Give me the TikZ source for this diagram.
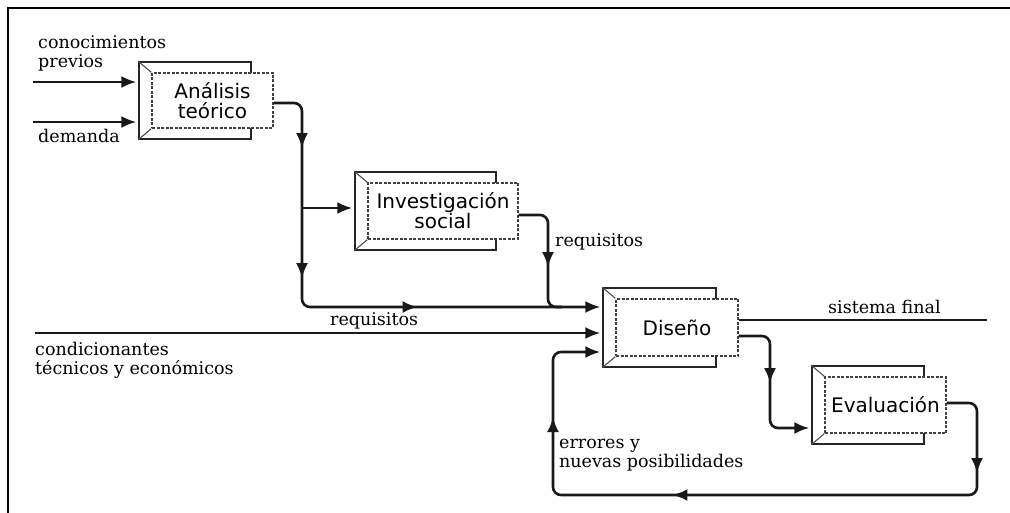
\documentclass[tikz,border=0pt]{standalone}
\usepackage{fontspec}
\setmainfont{DejaVu Serif}
\newfontfamily\boxfont{DejaVu Sans}
\usetikzlibrary{arrows.meta,decorations.markings,backgrounds,fit,calc}

\begin{document}
\begin{tikzpicture}[x=1pt,y=-1pt,
  >={Latex[length=15pt,width=12pt]},
  conn/.style={line width=2.6pt, draw=black!90, rounded corners=8pt},
  marks/.style={postaction={decorate,decoration={markings,#1}}},
  procbox/.style={draw=black!75, dash pattern=on 3pt off 1.5pt, line width=1.3pt,
    fill=white, inner sep=0pt, align=center,
    font=\boxfont\fontsize{20}{20}\selectfont},
  backbox/.style={draw=black!85, line width=2pt, inner sep=0pt},
  bevel/.style={draw=black!70, line width=1.1pt},
  lbl/.style={inner sep=0pt, align=left, font=\fontsize{17.5}{19}\selectfont}
]
\useasboundingbox (0,0) rectangle (1010,513);

% frame
\draw[line width=2.5pt] (8,513) -- (8,8) -- (1010,8);

% process boxes (front faces)
\node[procbox, minimum width=121pt, minimum height=55pt] (ana) at (212.5,100.5) {Análisis\\teórico};
\node[procbox, minimum width=150pt, minimum height=56pt] (inv) at (443,211) {Investigación\\social};
\node[procbox, minimum width=122pt, minimum height=57pt] (dis) at (677,327.5) {Diseño};
\node[procbox, minimum width=121pt, minimum height=56pt] (eva) at (885.5,405) {Evaluación};

% raised back frames with bevelled left corners
\begin{scope}[on background layer]
  \foreach \n in {ana,inv,dis,eva} {
    \node[backbox, fit={($(\n.north west)+(-12,-10)$) ($(\n.south east)+(-23,10)$)}] (\n-back) {};
    \draw[bevel] (\n-back.north west) -- (\n.north west)
                 (\n-back.south west) -- (\n.south west);
  }
\end{scope}

% free ends and bends
\coordinate (in1) at (33,82);
\coordinate (in2) at (33,122);
\coordinate (cond) at (35,333);
\coordinate (split) at (302,208);
\coordinate (j) at (548,307);
\coordinate (fin) at (987,320);
\coordinate (k) at (770,428);
\coordinate (fb1) at (977,495);
\coordinate (fb2) at (553,352);

% inputs to Análisis teórico
\draw[conn,->,shorten >=2pt] (in1) -- (in1 -| ana-back.west);
\draw[conn,->,shorten >=2pt] (in2) -- (in2 -| ana-back.west);

% main trunk down to Diseño
\draw[conn,->,shorten >=2pt,
  marks={mark=at position 70pt with {\arrow{>}},
         mark=at position 200pt with {\arrow{>}},
         mark=at position 341pt with {\arrow{>}}}]
  ($(ana.east)+(0,2.5)$) -| (j -| split) -- (j -| dis-back.west);

% branch to Investigación social
\draw[conn,->,shorten >=2pt] (split) -- (split -| inv-back.west);

% requisitos from Investigación social
\draw[conn, marks={mark=at position 78pt with {\arrow{>}}}]
  ($(inv.east)+(0,4)$) -| (j) -- ++(14,0);

% condicionantes técnicos y económicos
\draw[conn,->,shorten >=2pt] (cond) -- (cond -| dis-back.west);

% sistema final
\draw[conn] (dis.east |- fin) -- (fin);

% Diseño to Evaluación
\draw[conn,->,shorten >=2pt, marks={mark=at position 75pt with {\arrow{>}}}]
  ($(dis.east)+(0,8.5)$) -| (k) -- (k -| eva-back.west);

% feedback loop
\draw[conn,->,shorten >=2pt,
  marks={mark=at position 97pt with {\arrow{>}},
         mark=at position 420pt with {\arrow{>}},
         mark=at position 614pt with {\arrow{>}}}]
  ($(eva.east)+(0,-2)$) -| (fb1) -| (fb2) -- (fb2 -| dis-back.west);

% labels (base anchor sits on the last line)
\node[lbl, anchor=base west] (lprev) at (38,68) {conocimientos\\previos};
\node[lbl, anchor=base west] (ldem) at (38,143) {demanda};
\node[lbl, anchor=base west] (lreq1) at (555,247) {requisitos};
\node[lbl, anchor=base west] (lreq2) at (330,325) {requisitos};
\node[lbl, anchor=base west] (lcond) at (35,374) {condicionantes\\técnicos y económicos};
\node[lbl, anchor=base west] (lfin) at (828,313) {sistema final};
\node[lbl, anchor=base west] (lerr) at (559,467) {errores y\\nuevas posibilidades};
\end{tikzpicture}
\end{document}
